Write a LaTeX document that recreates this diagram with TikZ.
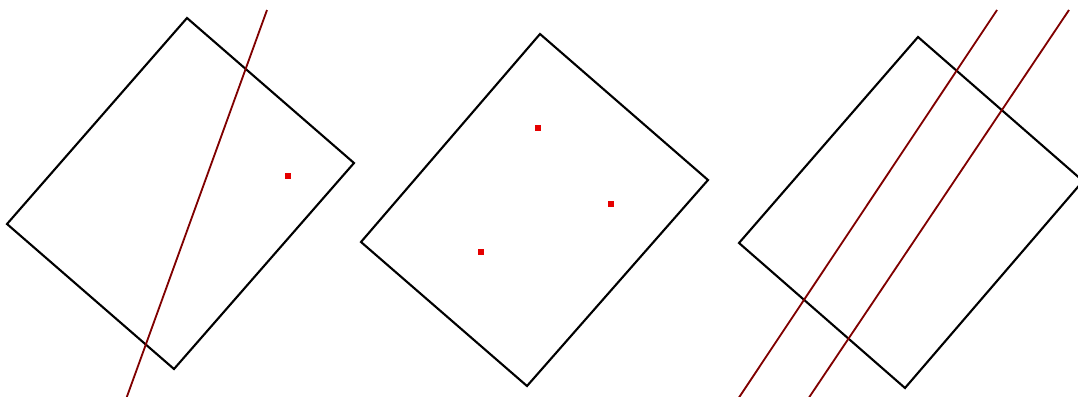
\documentclass[tikz,border=0pt]{standalone}
\usepackage{tikz}

\tikzset{
	box/.style={draw=black, line width=1.5pt, line join=miter},
	cut/.style={draw=red!50!black, line width=1.3pt},
	pt/.style={rectangle, fill=red!90!black, inner sep=0pt, minimum size=3.8pt}
}

\begin{document}
\begin{tikzpicture}[x=0.025cm,y=-0.025cm]
	\useasboundingbox (0,0) rectangle (1078,396);
	\clip (0,0) rectangle (1078,396);

	% left
	\coordinate (a-top) at (187,18);
	\coordinate (a-right) at (354,163);
	\coordinate (a-bottom) at (174,369);
	\coordinate (a-left) at (7,224);
	\coordinate (a-cut-start) at (267,10);
	\coordinate (a-cut-end) at (125,402);
	\draw[box] (a-top) -- (a-right) -- (a-bottom) -- (a-left) -- cycle;
	\draw[cut] (a-cut-start) -- (a-cut-end);
	\node[pt] (a-p) at (288,176) {};

	% middle
	\coordinate (b-top) at (540,34);
	\coordinate (b-right) at (708,180);
	\coordinate (b-bottom) at (527,386);
	\coordinate (b-left) at (361,242);
	\draw[box] (b-top) -- (b-right) -- (b-bottom) -- (b-left) -- cycle;
	\node[pt] (b-p1) at (538,128) {};
	\node[pt] (b-p2) at (611,204) {};
	\node[pt] (b-p3) at (481,252) {};

	% right
	\coordinate (c-top) at (918,37);
	\coordinate (c-right) at (1083,181);
	\coordinate (c-bottom) at (905,388);
	\coordinate (c-left) at (739,243);
	\coordinate (c-cut1-start) at (997,10);
	\coordinate (c-cut1-end) at (736,402);
	\coordinate (c-cut2-start) at (1069,10);
	\coordinate (c-cut2-end) at (806,402);
	\draw[box] (c-top) -- (c-right) -- (c-bottom) -- (c-left) -- cycle;
	\draw[cut] (c-cut1-start) -- (c-cut1-end);
	\draw[cut] (c-cut2-start) -- (c-cut2-end);
\end{tikzpicture}
\end{document}
